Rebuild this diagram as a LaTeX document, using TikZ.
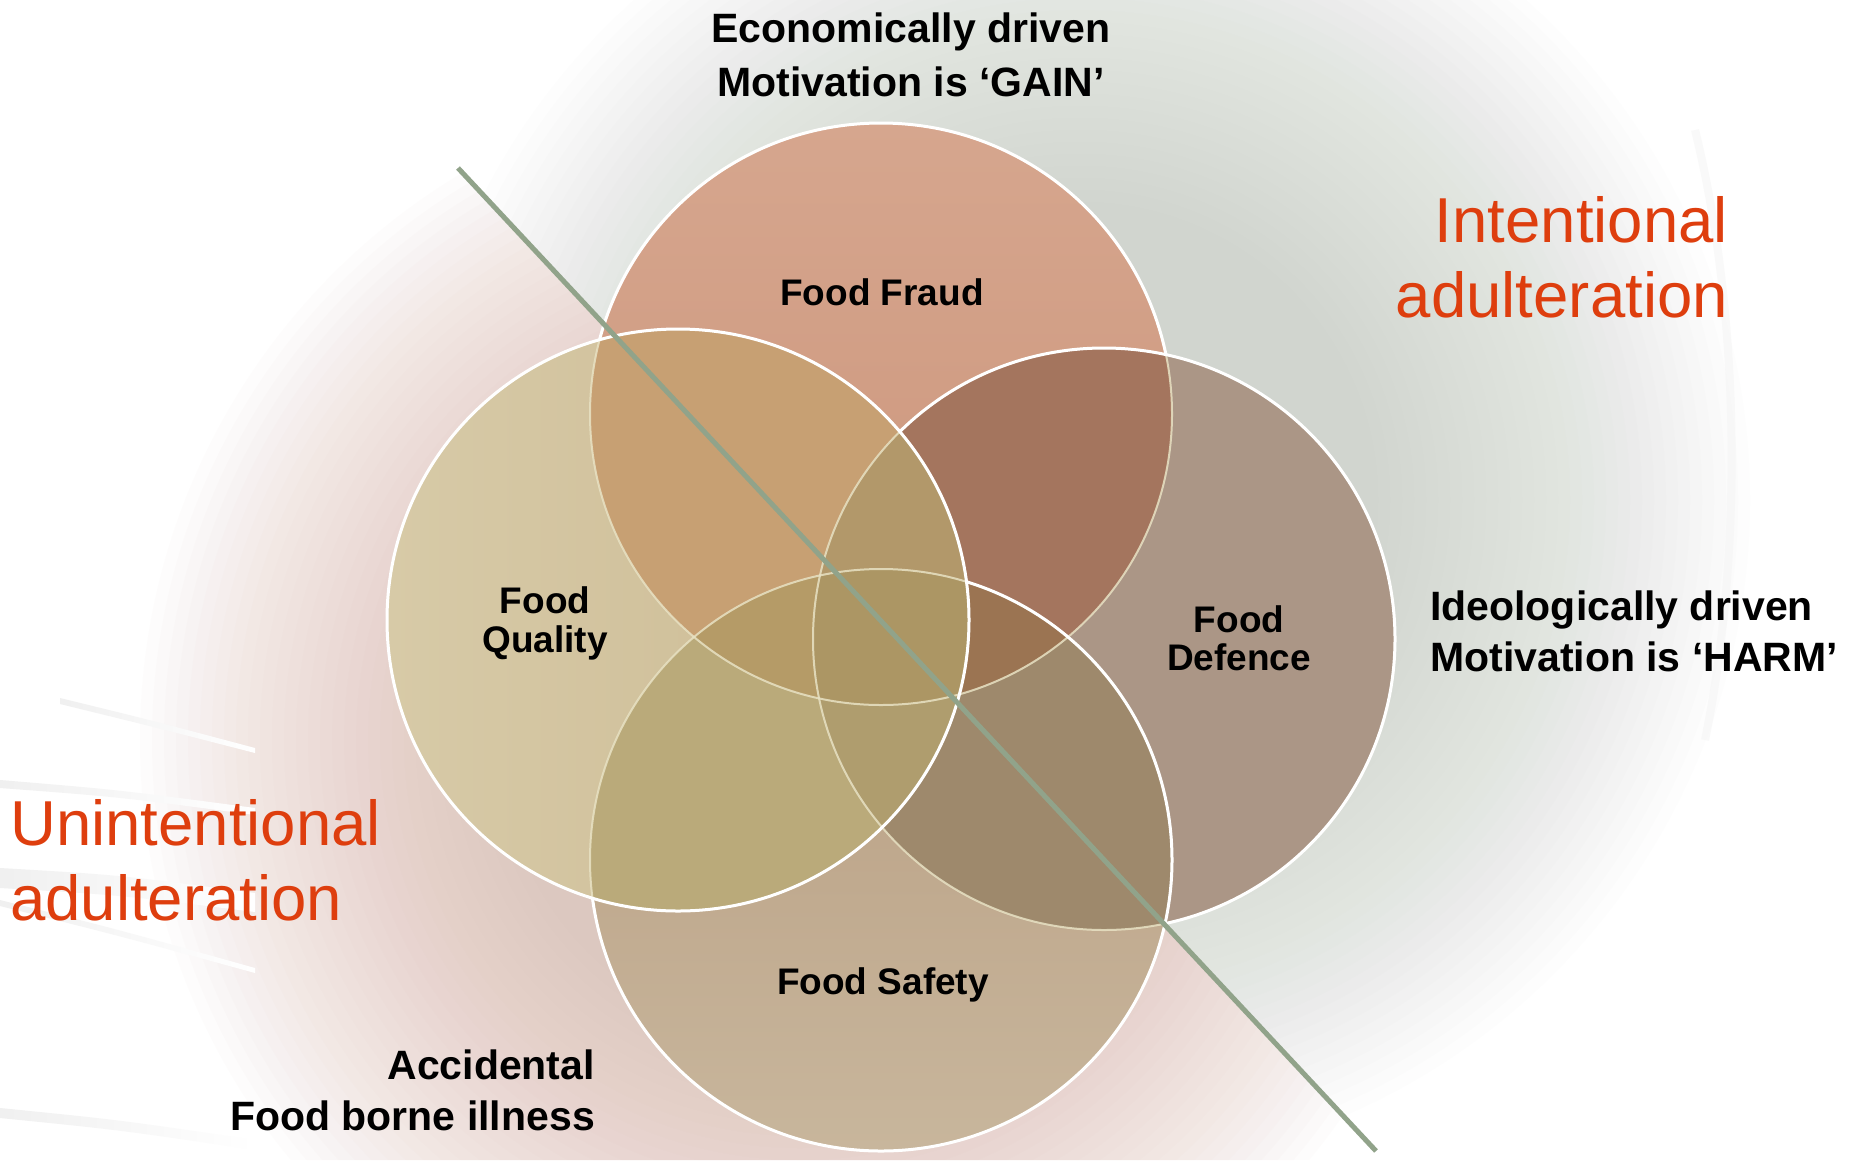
\documentclass[tikz,border=0pt]{standalone}
\usepackage{fontspec}
\setmainfont{Liberation Sans}
\usetikzlibrary{calc}
\definecolor{pinkc}{RGB}{219,184,173}
\definecolor{greenc}{RGB}{196,205,192}
\definecolor{cFtop}{RGB}{214,166,142}
\definecolor{cFbot}{RGB}{203,148,122}
\definecolor{cQl}{RGB}{215,202,167}
\definecolor{cQr}{RGB}{203,185,146}
\definecolor{cD}{RGB}{171,150,134}
\definecolor{cStop}{RGB}{183,156,128}
\definecolor{cSbot}{RGB}{200,182,156}
\definecolor{cFQ}{RGB}{199,160,115}
\definecolor{cFD}{RGB}{164,117,94}
\definecolor{cQS}{RGB}{186,170,122}
\definecolor{cDS}{RGB}{158,137,108}
\definecolor{cFQD}{RGB}{178,152,106}
\definecolor{cFQS}{RGB}{181,155,103}
\definecolor{cFDS}{RGB}{155,116,82}
\definecolor{cQDS}{RGB}{175,157,110}
\definecolor{cAll}{RGB}{172,150,100}
\definecolor{cream}{RGB}{232,226,196}
\definecolor{linec}{RGB}{145,163,138}
\definecolor{adultc}{RGB}{222,62,14}
\begin{document}
\begin{tikzpicture}[x=1pt,y=-1pt,
  lbl/.style={font=\fontsize{41}{49}\selectfont\bfseries, inner sep=0pt, text=black},
  innerlbl/.style={font=\fontsize{37}{44}\selectfont\bfseries, inner sep=0pt, text=black},
  adult/.style={font=\fontsize{63.5}{75}\selectfont, inner sep=0pt, text=adultc},
  whiteedge/.style={draw=white, line width=3pt},
  faintedge/.style={draw=cream, line width=2pt, opacity=0.85},
  swoosh/.style={left color=black!6, right color=white, draw=none}]
\useasboundingbox (0,0) rectangle (1865,1160);
\fill[white] (0,0) rectangle (1865,1160);
% named coordinates
\coordinate (cF) at (881,414);
\coordinate (cQ) at (678,620);
\coordinate (cDf) at (1104,639);
\coordinate (cS) at (881,860);
\coordinate (l1) at (458,168);
\coordinate (l2) at (1376,1151);
\coordinate (gP) at (800,740);
\coordinate (gG) at (1080,500);
% background glows split by the diagonal
\begin{scope}
  \clip (301,0) -- (1384,1160) -- (0,1160) -- (0,0) -- cycle;
  \foreach \r in {660,648,...,290} {\fill[pinkc, opacity=0.036] (gP) circle[radius=\r pt];}
\end{scope}
\begin{scope}
  \clip (301,0) -- (1865,0) -- (1865,1160) -- (1384,1160) -- cycle;
  \foreach \r in {670,658,...,290} {\fill[greenc, opacity=0.031] (gG) circle[radius=\r pt];}
\end{scope}
% faint swooshes
\shade[swoosh] (60,698) .. controls (150,720) .. (255,748) -- (255,753) .. controls (150,726) .. (60,704) -- cycle;
\shade[swoosh] (0,780) .. controls (120,790) .. (255,808) -- (255,815) .. controls (120,797) .. (0,788) -- cycle;
\shade[swoosh] (0,868) .. controls (120,875) .. (255,893) -- (255,912) .. controls (120,895) .. (0,888) -- cycle;
\shade[swoosh] (0,900) .. controls (120,930) .. (255,968) -- (255,973) .. controls (120,936) .. (0,906) -- cycle;
\shade[swoosh] (0,1108) .. controls (120,1120) .. (255,1140) -- (255,1150) .. controls (120,1130) .. (0,1118) -- cycle;
\draw[black!4, line width=8pt, opacity=0.6] (1695,130) .. controls (1742,320) and (1742,560) .. (1705,740);
% single circles
\shade[top color=cFtop, bottom color=cFbot] (cF) circle[radius=291pt];
\fill[cD] (cDf) circle[radius=291pt];
\shade[top color=cStop, bottom color=cSbot] (cS) circle[radius=291pt];
\shade[left color=cQl, right color=cQr] (cQ) circle[radius=291pt];
% pairwise overlaps
\begin{scope}\clip (cF) circle[radius=291pt]; \fill[cFQ] (cQ) circle[radius=291pt];\end{scope}
\begin{scope}\clip (cF) circle[radius=291pt]; \fill[cFD] (cDf) circle[radius=291pt];\end{scope}
\begin{scope}\clip (cQ) circle[radius=291pt]; \fill[cQS] (cS) circle[radius=291pt];\end{scope}
\begin{scope}\clip (cDf) circle[radius=291pt]; \fill[cDS] (cS) circle[radius=291pt];\end{scope}
\begin{scope}\clip (cF) circle[radius=291pt]; \fill[cAll] (cS) circle[radius=291pt];\end{scope}
\begin{scope}\clip (cQ) circle[radius=291pt]; \fill[cAll] (cDf) circle[radius=291pt];\end{scope}
% triple overlaps
\begin{scope}\clip (cF) circle[radius=291pt]; \clip (cQ) circle[radius=291pt]; \fill[cFQD] (cDf) circle[radius=291pt];\end{scope}
\begin{scope}\clip (cF) circle[radius=291pt]; \clip (cQ) circle[radius=291pt]; \fill[cFQS] (cS) circle[radius=291pt];\end{scope}
\begin{scope}\clip (cF) circle[radius=291pt]; \clip (cDf) circle[radius=291pt]; \fill[cFDS] (cS) circle[radius=291pt];\end{scope}
\begin{scope}\clip (cQ) circle[radius=291pt]; \clip (cDf) circle[radius=291pt]; \fill[cQDS] (cS) circle[radius=291pt];\end{scope}
% all four
\begin{scope}\clip (cF) circle[radius=291pt]; \clip (cQ) circle[radius=291pt]; \clip (cDf) circle[radius=291pt]; \fill[cAll] (cS) circle[radius=291pt];\end{scope}
% faint outlines everywhere
\path[faintedge] (cF) circle[radius=291pt];
\path[faintedge] (cDf) circle[radius=291pt];
\path[faintedge] (cS) circle[radius=291pt];
\path[faintedge] (cQ) circle[radius=291pt];
% bright outlines where each circle lies on top
\path[whiteedge] (cQ) circle[radius=291pt];
\begin{scope}[even odd rule]
  \clip (-20,-20) rectangle (1900,1200) (cQ) circle[radius=291pt];
  \path[whiteedge] (cS) circle[radius=291pt];
\end{scope}
\begin{scope}[even odd rule]
  \clip (-20,-20) rectangle (1900,1200) (cQ) circle[radius=291pt];
  \clip (-20,-20) rectangle (1900,1200) (cS) circle[radius=291pt];
  \path[whiteedge] (cDf) circle[radius=291pt];
\end{scope}
\begin{scope}[even odd rule]
  \clip (-20,-20) rectangle (1900,1200) (cQ) circle[radius=291pt];
  \clip (-20,-20) rectangle (1900,1200) (cS) circle[radius=291pt];
  \clip (-20,-20) rectangle (1900,1200) (cDf) circle[radius=291pt];
  \path[whiteedge] (cF) circle[radius=291pt];
\end{scope}
% diagonal divider
\draw[linec, line width=5pt] (l1) -- (l2);
% circle labels
\node[innerlbl, anchor=base] (tF) at (882,305) {Food Fraud};
\node[innerlbl, anchor=base] (tQ1) at (545,613) {Food};
\node[innerlbl, anchor=base] (tQ2) at (545,652) {Quality};
\node[innerlbl, anchor=base] (tD1) at (1239,632) {Food};
\node[innerlbl, anchor=base] (tD2) at (1239,670) {Defence};
\node[innerlbl, anchor=base] (tS) at (883,994) {Food Safety};
% outer labels
\node[lbl, anchor=base] (eco1) at (911,42) {Economically driven};
\node[lbl, anchor=base] (eco2) at (911,96) {Motivation is ‘GAIN’};
\node[lbl, anchor=base west] (ideo1) at (1430,620) {Ideologically driven};
\node[lbl, anchor=base west] (ideo2) at (1430,671) {Motivation is ‘HARM’};
\node[lbl, anchor=base east] (acc1) at (595,1079) {Accidental};
\node[lbl, anchor=base east] (acc2) at (595,1130) {Food borne illness};
\node[adult, anchor=base east] (int1) at (1728,242) {Intentional};
\node[adult, anchor=base east] (int2) at (1728,317) {adulteration};
\node[adult, anchor=base west] (un1) at (10,845) {Unintentional};
\node[adult, anchor=base west] (un2) at (10,920) {adulteration};
\end{tikzpicture}
\end{document}
